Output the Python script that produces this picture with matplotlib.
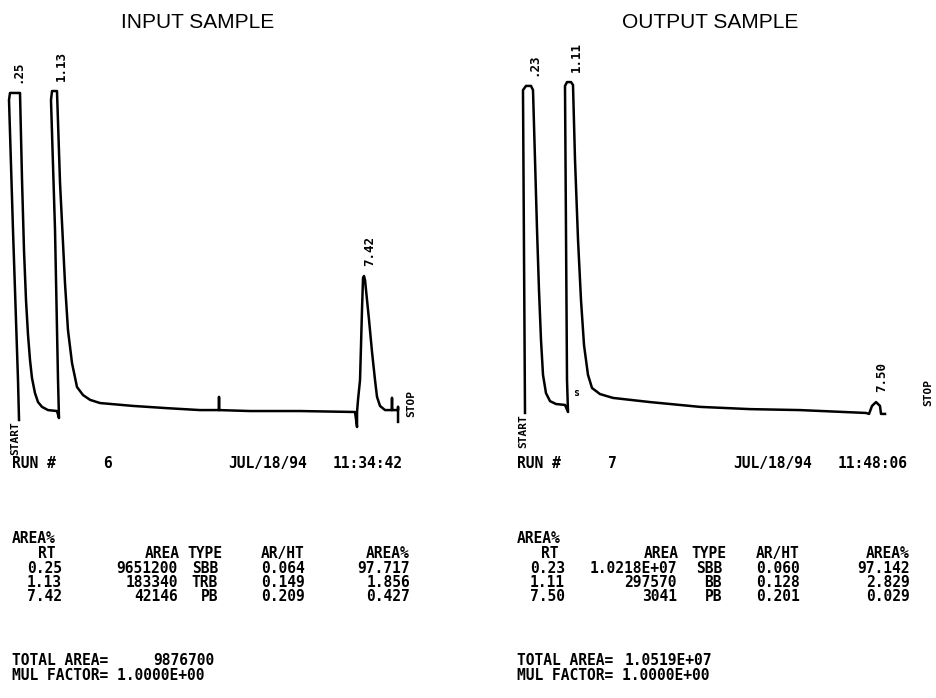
import numpy as np
import matplotlib
matplotlib.use("Agg")
import matplotlib.pyplot as plt

W, H = 937, 698

# ---------------- chromatogram traces (time in min, signal in % full scale) -------------
in_time = [0.418, 0.397, 0.295, 0.214, 0.234, 0.418, 0.438, 0.479, 0.519, 0.560, 0.601,
           0.642, 0.682, 0.743, 0.805, 0.886, 1.008, 1.191, 1.232, 1.212, 1.151, 1.069,
           1.090, 1.191, 1.253, 1.354, 1.415, 1.497, 1.599, 1.721, 1.864, 2.067, 2.739,
           3.432, 4.104, 4.491, 4.491, 4.491, 5.122, 6.141, 7.261, 7.302, 7.302, 7.322,
           7.363, 7.383, 7.403, 7.424, 7.444, 7.465, 7.485, 7.546, 7.607, 7.668, 7.709,
           7.770, 7.872, 8.014, 8.014, 8.014, 8.137, 8.137, 8.137]
in_signal = [-2.5, 10.0, 56.9, 97.5, 99.7, 99.7, 99.7, 72.5, 50.6, 35.0, 24.1,
             16.2, 10.6, 5.9, 3.1, 1.6, 0.6, 0.3, -1.9, 10.0, 56.9, 97.5,
             100.3, 100.3, 71.6, 40.3, 25.6, 15.3, 7.8, 5.3, 3.8, 2.8, 1.9,
             1.2, 0.6, 0.6, 4.7, 0.6, 0.3, 0.3, 0.0, -4.7, 0.0, 3.8,
             10.0, 20.9, 31.9, 41.9, 42.5, 41.2, 38.1, 28.8, 18.8, 10.0, 4.7,
             1.9, 0.6, 0.6, 4.4, 0.6, 0.6, 1.6, -3.1]

out_time = [0.192, 0.150, 0.213, 0.317, 0.359, 0.401, 0.443, 0.484, 0.526, 0.568, 0.630,
            0.714, 0.839, 1.027, 1.090, 1.069, 1.027, 1.069, 1.152, 1.194, 1.236, 1.299,
            1.361, 1.424, 1.507, 1.591, 1.758, 2.029, 2.802, 3.846, 4.889, 5.933, 7.311,
            7.374, 7.436, 7.520, 7.603, 7.624, 7.708]
out_signal = [-0.3, 100.6, 101.9, 101.9, 100.6, 78.8, 56.9, 38.1, 22.5, 11.6, 5.9,
              3.4, 2.5, 2.2, 0.0, 10.0, 101.9, 103.1, 103.1, 102.2, 78.8, 53.8,
              35.0, 20.9, 11.6, 7.5, 5.6, 4.4, 3.1, 1.6, 0.9, 0.6, -0.3,
              -0.6, 1.9, 3.1, 1.9, -0.6, -0.6]

# ---------------- integrator report data ----------------
in_rt = [0.25, 1.13, 7.42]
in_area = ["9651200", "183340", "42146"]
in_type = ["SBB", "TRB", "PB"]
in_arht = [0.064, 0.149, 0.209]
in_pct = [97.717, 1.856, 0.427]
in_run = "6"
in_clock = "11:34:42"
in_total = "9876700"

out_rt = [0.23, 1.11, 7.50]
out_area = ["1.0218E+07", "297570", "3041"]
out_type = ["SBB", "BB", "PB"]
out_arht = [0.060, 0.128, 0.201]
out_pct = [97.142, 2.829, 0.029]
out_run = "7"
out_clock = "11:48:06"
out_total = "1.0519E+07"

date = "JUL/18/94"
mul_factor = "1.0000E+00"

fig = plt.figure(figsize=(W / 100, H / 100), dpi=100)


def fx(x):
    return x / W


def fy(y):
    return 1 - y / H


MONO = dict(family="DejaVu Sans Mono", weight="bold", size=10.5, color="black")
LAB = dict(family="DejaVu Sans Mono", weight="bold", size=9, color="black")

# axes placement (pixel boxes) and limits
ax_in = fig.add_axes([fx(0), fy(440), fx(430), 400 / H])
ax_out = fig.add_axes([fx(505), fy(440), fx(432), 400 / H])
ax_in.set_xlim(0.0305, 8.788)
ax_out.set_xlim(-0.2255, 8.793)
for ax in (ax_in, ax_out):
    ax.set_ylim(-8.75, 116.25)
    ax.axis("off")

ax_in.plot(in_time, in_signal, color="black", lw=1.8, solid_joinstyle="round")
ax_out.plot(out_time, out_signal, color="black", lw=1.8, solid_joinstyle="round")


def peak_labels(ax, t, s, rts):
    t = np.asarray(t)
    s = np.asarray(s)
    for rt in rts:
        m = np.abs(t - rt) < 0.2
        top = s[m].max()
        lab = f"{rt:.2f}"
        if lab.startswith("0"):
            lab = lab[1:]
        ax.annotate(lab, xy=(rt, top), xytext=(5, 7), textcoords="offset points",
                    rotation=90, ha="center", va="bottom", **LAB)


peak_labels(ax_in, in_time, in_signal, in_rt)
peak_labels(ax_out, out_time, out_signal, out_rt)

# START / STOP markers
SS = dict(family="DejaVu Sans Mono", weight="bold", size=8, color="black")
ax_in.annotate("START", xy=(in_time[0], in_signal[0]), xytext=(-3, -1),
               textcoords="offset points", rotation=90, ha="center", va="top", **SS)
ax_out.annotate("START", xy=(out_time[0], out_signal[0]), xytext=(-1, -1),
                textcoords="offset points", rotation=90, ha="center", va="top", **SS)
fig.text(fx(411), fy(404), "STOP", rotation=90, ha="center", va="center", **SS)
fig.text(fx(928), fy(392), "STOP", rotation=90, ha="center", va="center", **SS)
fig.text(fx(576), fy(393), "s", ha="center", va="center", family="DejaVu Sans Mono",
         weight="bold", size=7)

# titles
fig.text(fx(198), fy(22), "INPUT SAMPLE", ha="center", va="center",
         family="Liberation Sans", size=15)
fig.text(fx(710), fy(22), "OUTPUT SAMPLE", ha="center", va="center",
         family="Liberation Sans", size=15)


def report(x0, run, clock, rts, areas, types, arhts, pcts, total, total_x, cols):
    def ft(x, y, s, ha="left"):
        fig.text(fx(x), fy(y + 5), s, ha=ha, va="baseline", **MONO)

    ft(x0, 463, "RUN #")
    ft(x0 + 91, 463, run)
    ft(x0 + 216, 463, date)
    ft(x0 + 321, 463, clock)
    ft(x0, 538, "AREA%")
    c_rt, c_area, c_type, c_arht, c_pct = cols
    ft(c_rt - 6, 553, "RT", ha="right")
    ft(c_area + 2, 553, "AREA", ha="right")
    ft(c_type + 4, 553, "TYPE", ha="right")
    ft(c_arht, 553, "AR/HT", ha="right")
    ft(c_pct, 553, "AREA%", ha="right")
    for i, yy in enumerate([568, 582, 596]):
        ft(c_rt, yy, f"{rts[i]:.2f}", ha="right")
        ft(c_area, yy, areas[i], ha="right")
        ft(c_type, yy, types[i], ha="right")
        ft(c_arht, yy, f"{arhts[i]:.3f}", ha="right")
        ft(c_pct, yy, f"{pcts[i]:.3f}", ha="right")
    ft(x0, 660, "TOTAL AREA=")
    ft(total_x, 660, total, ha="right")
    ft(x0, 675, "MUL FACTOR= " + mul_factor)


report(12, in_run, in_clock, in_rt, in_area, in_type, in_arht, in_pct, in_total, 215,
       (62, 178, 218, 305, 410))
report(517, out_run, out_clock, out_rt, out_area, out_type, out_arht, out_pct, out_total, 712,
       (565, 677, 722, 800, 910))

fig.savefig("out.png", dpi=100, facecolor="white")
